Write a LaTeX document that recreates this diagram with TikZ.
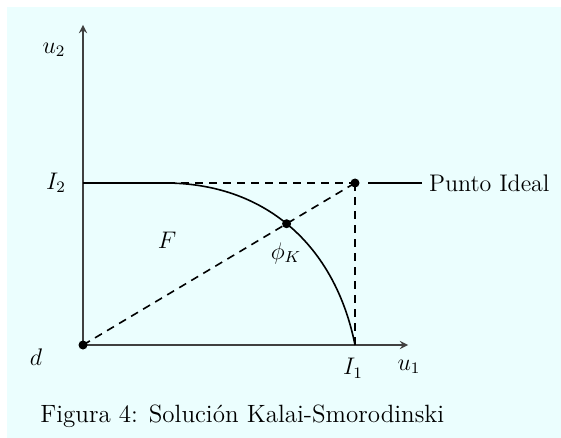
\documentclass[tikz,border=0pt]{standalone}
\usetikzlibrary{intersections,positioning}
\definecolor{bgcyan}{HTML}{EBFEFE}

\begin{document}
\begin{tikzpicture}[x=0.5pt,y=-0.5pt,
    font=\fontsize{12}{14}\selectfont,
    axis/.style={->, >=stealth, line width=0.8pt, black!75},
    guide/.style={dash pattern=on 4pt off 3pt, line width=0.8pt},
    dot/.style={circle, fill=black, inner sep=0pt, minimum size=4.5pt}
]
\fill[bgcyan] (7,7) rectangle (561,438);
\useasboundingbox (0,0) rectangle (561,438);

% points of the plane
\coordinate (d) at (83,345);
\coordinate (I1) at (355,345);
\coordinate (I2) at (83,183);
\coordinate (ideal) at (355,183);
\coordinate (u2top) at (83,25);
\coordinate (u1end) at (408,345);

\draw[axis] (d) -- (u2top);
\draw[axis] (d) -- (u1end);

% frontier of F
\draw[name path=curve, line width=0.8pt] (I2) -- (165,183) .. controls (265,183) and (335,245) .. (I1);
\draw[guide, name path=diag] (d) -- (ideal);
\draw[guide] (I2) -- (ideal);
\draw[guide] (ideal) -- (I1);
\path[name intersections={of=curve and diag, by=kpt}];

\node[dot] (dpt) at (d) {};
\node[dot] (idealpt) at (ideal) {};
\node[dot] (phiK) at (kpt) {};

\node (u2lbl) at (54,50) {$u_2$};
\node (I2lbl) at (56,183) {$I_2$};
\node (dlbl) at (36,357) {$d$};
\node (I1lbl) at (353,368) {$I_1$};
\node (u1lbl) at (409,367) {$u_1$};
\node (Flbl) at (167,240) {$F$};
\node (phiKlbl) at (286,253) {$\phi_K$};
\node[anchor=west] (idlbl) at (422,183) {Punto Ideal};
\draw[line width=0.8pt, shorten >=4pt] (idlbl) -- (idealpt);

\node[inner sep=0pt, anchor=base west, font=\fontsize{12.5}{14}\selectfont] (cap) at (40,422) {Figura 4: Solución Kalai-Smorodinski};
\end{tikzpicture}
\end{document}
